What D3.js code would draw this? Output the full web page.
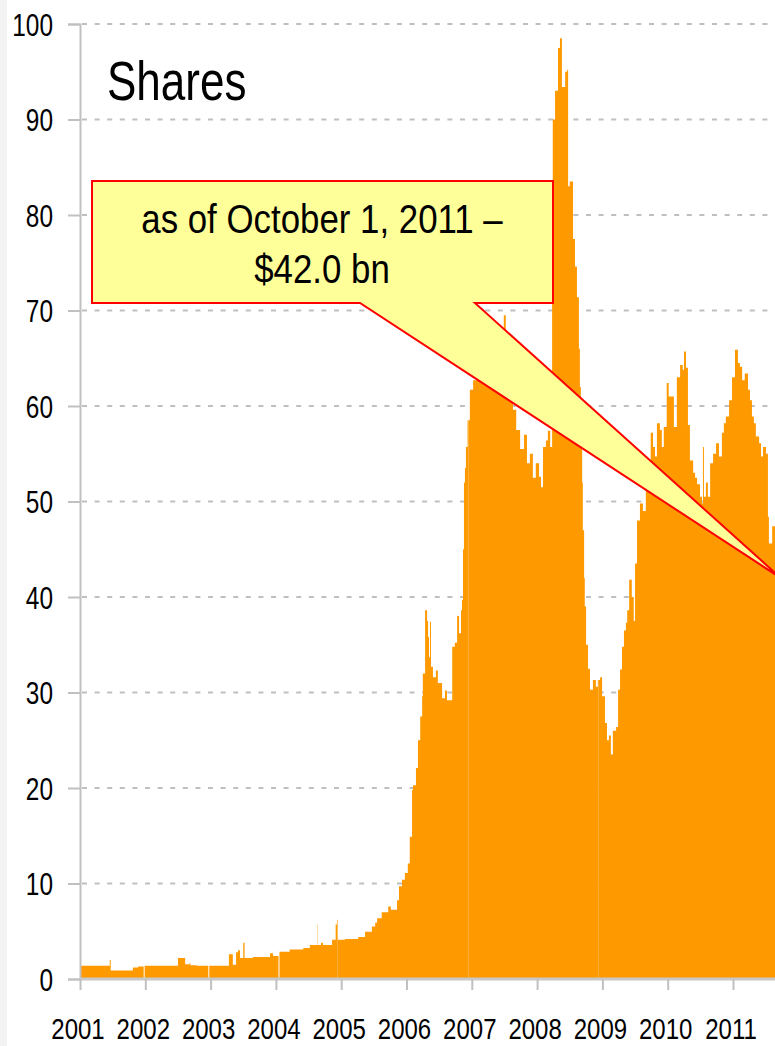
<!DOCTYPE html>
<html>
<head>
<meta charset="utf-8">
<script src="https://cdn.jsdelivr.net/npm/d3@7"></script>
<style>
  body { margin: 0; background: #fff; }
  svg text { font-family: "Liberation Sans", Arial, sans-serif; fill: #000; }
</style>
</head>
<body>
<svg></svg>
<script>
const width = 775;
const height = 1046;

// Decimal year of each reading and value (USD bn)
const years = [
  2001.00, 2001.455, 2001.47, 2001.81, 2001.89, 2001.975, 2001.99,
  2002.50, 2002.61, 2002.68, 2002.69, 2002.79, 2002.965, 2002.98,
  2003.28, 2003.34, 2003.39, 2003.42, 2003.45, 2003.50, 2003.52, 2003.65, 2003.91, 2003.955,
  2004.04, 2004.055, 2004.21, 2004.42, 2004.52, 2004.64, 2004.645, 2004.69, 2004.72, 2004.86,
  2004.915, 2004.935, 2004.945, 2004.948,
  2005.06, 2005.26, 2005.365, 2005.47, 2005.52, 2005.55, 2005.62, 2005.72, 2005.76, 2005.855,
  2005.885, 2005.93, 2005.975,
  2006.02, 2006.05, 2006.085, 2006.10, 2006.145, 2006.175, 2006.21, 2006.24, 2006.25, 2006.285,
  2006.315, 2006.33, 2006.345, 2006.36, 2006.375, 2006.405, 2006.45, 2006.48, 2006.545, 2006.59,
  2006.62, 2006.70, 2006.74, 2006.775, 2006.805, 2006.835, 2006.85, 2006.865, 2006.88, 2006.895,
  2006.91, 2006.935, 2006.945, 2006.948, 2006.97,
  2007.02, 2007.10, 2007.20, 2007.30, 2007.43, 2007.49, 2007.52, 2007.585, 2007.63, 2007.68,
  2007.74, 2007.80, 2007.845, 2007.89, 2007.935, 2007.98,
  2008.03, 2008.06, 2008.09, 2008.135, 2008.165, 2008.20, 2008.23, 2008.24, 2008.275, 2008.32,
  2008.35, 2008.38, 2008.43, 2008.46, 2008.475, 2008.50, 2008.55, 2008.58, 2008.61, 2008.64,
  2008.655, 2008.67, 2008.69, 2008.70, 2008.72, 2008.73, 2008.75, 2008.78, 2008.81, 2008.855,
  2008.90, 2008.93, 2008.935, 2008.938, 2008.965, 2008.995,
  2009.04, 2009.07, 2009.10, 2009.13, 2009.16, 2009.21, 2009.24, 2009.27, 2009.30, 2009.33,
  2009.36, 2009.38, 2009.41, 2009.45, 2009.48, 2009.50, 2009.53, 2009.575, 2009.62, 2009.665,
  2009.71, 2009.74, 2009.775, 2009.805, 2009.835, 2009.88, 2009.91, 2009.94, 2009.985,
  2010.015, 2010.06, 2010.095, 2010.14, 2010.19, 2010.23, 2010.25, 2010.28, 2010.31, 2010.34,
  2010.39, 2010.42, 2010.45, 2010.495, 2010.525, 2010.54, 2010.555, 2010.585, 2010.615, 2010.65,
  2010.695, 2010.74, 2010.785, 2010.83, 2010.86, 2010.89, 2010.94, 2010.985,
  2011.03, 2011.075, 2011.105, 2011.14, 2011.18, 2011.23, 2011.26, 2011.29, 2011.32, 2011.35,
  2011.40, 2011.43, 2011.46, 2011.505, 2011.535, 2011.55, 2011.60, 2011.75
];
const values = [
  1.4, 2.0, 0.9, 1.2, 1.3, 0, 1.4,
  2.2, 1.55, 1.7, 1.45, 1.4, 0, 1.4,
  2.6, 1.5, 2.8, 3.0, 2.2, 3.8, 2.2, 2.3, 2.7, 2.4,
  0, 2.85, 3.1, 3.25, 3.55, 5.7, 3.55, 3.8, 3.55, 4.1,
  5.7, 6.2, 0, 4.1,
  4.2, 4.4, 4.95, 5.5, 5.9, 6.35, 7.0, 7.6, 7.25, 8.25,
  9.7, 10.4, 11.1,
  12.1, 14.9, 19.8, 20.3, 22.1, 25, 27.5, 29.6, 32, 38.6,
  37.5, 35.8, 33.7, 37.4, 32.7, 31.6, 32.3, 31, 29.4, 30.2,
  29.2, 34.8, 35.2, 38, 36.2, 38.6, 39.7, 45, 52, 53.5,
  55.7, 58.5, 0, 58.5, 61.7,
  62.7, 64, 65, 66.5, 67, 69.5, 66, 61, 59.6, 57.5,
  55.5, 57, 54, 55, 52.5, 54,
  52.6, 51.5, 55.7, 56.4, 57.4, 55.7, 75, 90, 93, 97.5,
  98.5, 93.4, 95, 95.2, 83, 83.5, 77.5, 74.6, 71.4, 66,
  62, 57, 52, 47, 42, 39, 35, 32.5, 30.3, 31.3,
  30.6, 31.3, 0, 31.3, 31.6, 29.6,
  26.8, 25, 25.5, 23.5, 26, 26.4, 30.3, 32.4, 34.8, 36.5,
  37.3, 38.6, 41.8, 40, 37.5, 43.5, 48, 49.8, 49, 51.2,
  52.6, 57.2, 55.7, 54.7, 58.2, 57.5, 55.7, 57.8, 62.4,
  61, 61, 57.8, 63, 64.3, 63.8, 65.7, 64, 58, 54.3,
  53, 52.5, 51.8, 50.5, 49.8, 55.7, 50.5, 52, 50.5, 54,
  55, 56.1, 54.7, 57.2, 58.2, 58.9, 60.6, 63,
  65.9, 64.5, 64.1, 62.7, 63.4, 61.7, 60.6, 58.9, 58.2, 56.8,
  56.1, 54.7, 55.7, 55, 48.4, 45.6, 47.4, 42
];

const xTickYears = d3.range(2001, 2012);
const yTicks = d3.range(0, 101, 10);
const chartTitle = "Shares";
const calloutLines = ["as of October 1, 2011 \u2013", "$42.0 bn"];
const calloutYear = 2011.73;
const calloutValue = 42;

// no narrow font installed: squeeze Liberation Sans horizontally
const narrow = 0.8;

const svg = d3.select("svg")
  .attr("width", width)
  .attr("height", height);

// light strip on the left edge
svg.append("rect")
  .attr("x", 0).attr("y", 0)
  .attr("width", 7).attr("height", height)
  .attr("fill", "#f3f3f3");

const x = d3.scaleLinear()
  .domain([2001, 2011])
  .range([80, 733]);

const y = d3.scaleLinear()
  .domain([0, 100])
  .range([979, 24]);

// dashed gridlines
svg.append("g")
  .selectAll("line")
  .data(yTicks.filter(d => d > 0))
  .enter().append("line")
  .attr("x1", 82)
  .attr("x2", width)
  .attr("y1", d => y(d))
  .attr("y2", d => y(d))
  .attr("stroke", "#bfbfbf")
  .attr("stroke-width", 2)
  .attr("stroke-dasharray", "5,7.6");

// the area
const data = years.map((t, i) => ({ t: t, v: values[i] }));
const area = d3.area()
  .x(d => x(d.t))
  .y0(y(0))
  .y1(d => y(d.v))
  .curve(d3.curveStepAfter);

svg.append("path")
  .datum(data)
  .attr("fill", "#ff9900")
  .attr("d", area);

// y axis (labels drawn separately so they can be squeezed)
const yAxis = svg.append("g")
  .attr("transform", "translate(80,0)")
  .call(d3.axisLeft(y).tickValues(yTicks).tickSize(12).tickFormat(""));
yAxis.select(".domain").attr("stroke", "#c0c0c0").attr("stroke-width", 2);
yAxis.selectAll(".tick line").attr("stroke", "#c0c0c0").attr("stroke-width", 2);

svg.append("g")
  .selectAll("text")
  .data(yTicks)
  .enter().append("text")
  .attr("transform", d => "translate(53," + (y(d) + 11.5) + ") scale(" + narrow + ",1)")
  .attr("text-anchor", "end")
  .attr("font-size", 30.5)
  .text(d => d);

// x axis
const xAxis = svg.append("g")
  .attr("transform", "translate(0,979)")
  .call(d3.axisBottom(x).tickValues(xTickYears).tickSize(11).tickFormat(""));
xAxis.select(".domain").attr("stroke", "#c8c8c8").attr("stroke-width", 3).attr("d", "M80,0H" + width);
xAxis.selectAll(".tick line").attr("stroke", "#c0c0c0").attr("stroke-width", 2);

svg.append("g")
  .selectAll("text")
  .data(xTickYears)
  .enter().append("text")
  .attr("transform", d => "translate(" + (x(d) - 2) + ",1039) scale(" + narrow + ",1)")
  .attr("text-anchor", "middle")
  .attr("font-size", 30)
  .text(d => d);

// title
svg.append("text")
  .attr("transform", "translate(107,100) scale(0.8,1)")
  .attr("font-size", 55)
  .text(chartTitle);

// callout box with pointer
const tipX = x(calloutYear), tipY = y(calloutValue);
const callout = d3.path();
callout.moveTo(92, 181);
callout.lineTo(553, 181);
callout.lineTo(553, 303);
callout.lineTo(475, 303);
callout.lineTo(tipX, tipY);
callout.lineTo(360, 303);
callout.lineTo(92, 303);
callout.closePath();

svg.append("path")
  .attr("d", callout.toString())
  .attr("fill", "#ffff99")
  .attr("stroke", "#ff0000")
  .attr("stroke-width", 2)
  .attr("stroke-linejoin", "miter");

svg.append("g")
  .selectAll("text")
  .data(calloutLines)
  .enter().append("text")
  .attr("transform", (d, i) => "translate(322," + (233 + i * 50) + ") scale(0.85,1)")
  .attr("text-anchor", "middle")
  .attr("font-size", 41)
  .text(d => d);
</script>
</body>
</html>
